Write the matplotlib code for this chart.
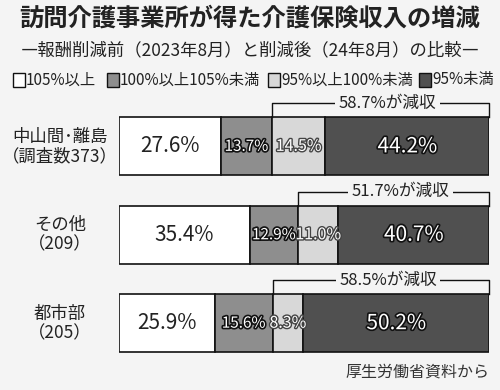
import matplotlib.pyplot as plt
import matplotlib.patheffects as pe
from matplotlib.patches import Rectangle

plt.rcParams['font.family'] = ['Noto Sans CJK JP', 'DejaVu Sans']

# データ
categories = ["中山間･離島\n（調査数373）", "その他\n（209）", "都市部\n（205）"]
series_names = ["105%以上", "100%以上105%未満", "95%以上100%未満", "95%未満"]
v_105plus = [27.6, 35.4, 25.9]
v_100_105 = [13.7, 12.9, 15.6]
v_95_100 = [14.5, 11.0, 8.3]
v_95minus = [44.2, 40.7, 50.2]
decline_total = ["58.7%", "51.7%", "58.5%"]

colors = ["#ffffff", "#8e8e8e", "#d8d8d8", "#505050"]
bg = "#f4f4f4"

fig = plt.figure(figsize=(5, 3.9), dpi=100, facecolor=bg)
ax = fig.add_axes([0.238, 0.058, 0.74, 0.68])
ax.set_facecolor(bg)

series = [v_105plus, v_100_105, v_95_100, v_95minus]
bar_h = 0.655
outline = [pe.withStroke(linewidth=2.4, foreground="#111111")]
outline_light = [pe.withStroke(linewidth=2.0, foreground="#444444")]

for i in range(len(categories)):
    left = 0
    for k, vals in enumerate(series):
        v = vals[i]
        ax.barh(i, v, left=left, height=bar_h, color=colors[k],
                edgecolor="#111111", linewidth=1.2)
        label = f"{v:.1f}%"
        cx = left + v / 2
        if k == 0:
            ax.text(cx, i, label, ha="center", va="center", fontsize=15,
                    color="#222222")
        elif k == 3:
            ax.text(cx, i, label, ha="center", va="center", fontsize=15,
                    color="white", path_effects=outline)
        elif k == 1:
            ax.text(cx, i, label, ha="center", va="center", fontsize=11,
                    color="white", path_effects=outline)
        else:
            ax.text(cx, i, label, ha="center", va="center", fontsize=11.5,
                    color="white", path_effects=outline_light)
        left += v

    # 減収の括弧
    start = v_105plus[i] + v_100_105[i]
    top = i - bar_h / 2
    yb = top - 0.16
    ax.plot([start, start, 100, 100], [top, yb, yb, top], color="#111111",
            lw=1.0, clip_on=False, zorder=3)
    ax.text((start + 100) / 2 + 2, yb, decline_total[i] + "が減収",
            ha="center", va="center", fontsize=12, color="#222222",
            bbox=dict(facecolor=bg, edgecolor="none", pad=2.5), zorder=4)

    ax.text(-16, i, categories[i], ha="center", va="center", fontsize=12.5,
            color="#222222", linespacing=1.1)

ax.set_xlim(0, 100)
ax.set_ylim(2.5, -0.5)
ax.axis("off")

# タイトル
fig.text(0.5, 0.952, "訪問介護事業所が得た介護保険収入の増減", ha="center",
         va="center", fontsize=17.5, fontweight="bold", color="#222222")
fig.text(0.5, 0.872, "―報酬削減前（2023年8月）と削減後（24年8月）の比較―",
         ha="center", va="center", fontsize=12.5, color="#222222")

# 凡例
leg_x = [0.026, 0.214, 0.536, 0.838]
leg_y = 0.795
for k, name in enumerate(series_names):
    fig.patches.append(Rectangle((leg_x[k], leg_y - 0.018), 0.024, 0.036,
                                 transform=fig.transFigure, facecolor=colors[k],
                                 edgecolor="#111111", linewidth=1.0))
    fig.text(leg_x[k] + 0.026, leg_y, name, ha="left", va="center",
             fontsize=11, color="#222222")

fig.text(0.978, 0.045, "厚生労働省資料から", ha="right", va="center",
         fontsize=11.5, color="#333333")

fig.savefig("out.png", dpi=100, facecolor=bg)
